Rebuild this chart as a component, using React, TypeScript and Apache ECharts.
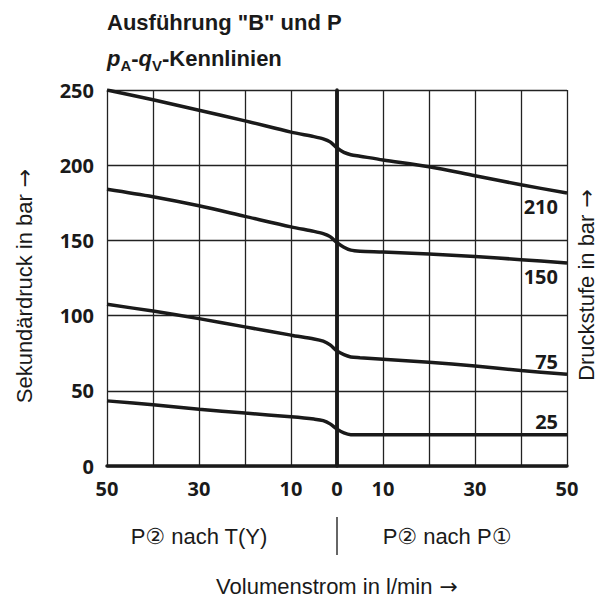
import React, { useEffect, useRef } from 'react';
import * as echarts from 'echarts';

// Flow rate in l/min: negative = P2 -> T(Y), positive = P2 -> P1
const flowRates = [-50, -40, -30, -20, -10, -5, -3, -1.5, 0, 1.5, 3, 5, 10, 20, 30, 40, 50];
const curve210 = [250, 243.5, 236.5, 229.5, 222, 219, 217.5, 215.5, 211.5, 208.5, 207, 206, 203.5, 199, 193, 187, 181.5];
const curve150 = [184, 179, 173, 166, 159, 156, 154.5, 152.5, 148.5, 145.5, 143.5, 142.8, 142.3, 141, 139.3, 137.2, 135];
const curve75 = [107.5, 103, 98, 92.5, 87, 84.5, 83, 80.5, 76.5, 74, 72.5, 72, 71, 69, 66.5, 63.5, 61];
const curve25 = [43.3, 40.7, 37.8, 35.2, 32.7, 31.2, 30.2, 28, 24.5, 22, 20.8, 20.7, 20.7, 20.7, 20.8, 20.8, 20.8];
const stageLabels = ['210', '150', '75', '25'];
const shownXTicks = [50, 30, 10, 0];

const titleLine1 = 'Ausführung "B" und P';
const yAxisName = 'Sekundärdruck in bar';
const rightAxisName = 'Druckstufe in bar';
const xAxisName = 'Volumenstrom in l/min';
const arrow = '→';
const leftRegion = 'P② nach T(Y)';
const rightRegion = 'P② nach P①';

// label placement (style only)
const labelOffsets: [number, number][] = [[-9, 13], [-9, 14], [-9, -13], [-9, -13]];

const INK = '#1a1a1a';
const NUM_FONT = '"Open Sans", sans-serif';
const TXT_FONT = '"Liberation Sans", Arial, "DejaVu Sans", sans-serif';
const NUM_SIZE = 20;

const nameRich = {
  t: { fontFamily: TXT_FONT, fontSize: 22, fill: INK },
  a: { fontFamily: '"DejaVu Sans", sans-serif', fontSize: 22, fill: INK, padding: [0, 0, 0, 7] },
};

export default function App() {
  const ref = useRef<HTMLDivElement>(null);
  useEffect(() => {
    if (!ref.current) return;
    const chart = echarts.init(ref.current, undefined, { renderer: 'svg' });
    const curves = [curve210, curve150, curve75, curve25];
    const series: any[] = curves.map((c, i) => ({
      type: 'line',
      name: stageLabels[i],
      data: flowRates.map((q, k) => [q, c[k]]),
      symbol: 'none',
      smooth: 0.3,
      lineStyle: { color: INK, width: 3.5 },
      z: 5,
      markPoint: {
        symbol: 'circle',
        symbolSize: 0,
        silent: true,
        data: [
          {
            coord: [flowRates[flowRates.length - 1], c[c.length - 1]],
            label: {
              show: true,
              formatter: stageLabels[i],
              position: 'inside',
              align: 'right',
              verticalAlign: 'middle',
              offset: labelOffsets[i],
              color: INK,
              fontFamily: NUM_FONT,
              fontWeight: 'bold',
              fontSize: NUM_SIZE,
            },
          },
        ],
      },
    }));
    series[0].markLine = {
      silent: true,
      symbol: ['none', 'none'],
      label: { show: false },
      lineStyle: { color: INK, width: 3.5, type: 'solid' },
      data: [{ xAxis: 0 }],
    };

    chart.setOption({
      animation: false,
      backgroundColor: '#ffffff',
      grid: { left: 107, right: 40, top: 90, bottom: 135, containLabel: false },
      xAxis: {
        type: 'value',
        min: -50,
        max: 50,
        interval: 10,
        axisLine: { show: true, onZero: false, lineStyle: { color: INK, width: 3.5 } },
        axisTick: { show: false },
        splitLine: { show: true, lineStyle: { color: '#222', width: 1.3 } },
        axisLabel: {
          margin: 12,
          color: INK,
          fontFamily: NUM_FONT,
          fontWeight: 'bold',
          fontSize: NUM_SIZE,
          formatter: (v: number) => (shownXTicks.includes(Math.abs(v)) ? String(Math.abs(v)) : ''),
        },
      },
      yAxis: {
        type: 'value',
        min: 0,
        max: 250,
        interval: 50,
        axisLine: { show: true, lineStyle: { color: INK, width: 3.5 } },
        axisTick: { show: false },
        splitLine: { show: true, lineStyle: { color: '#222', width: 1.3 } },
        axisLabel: {
          margin: 13,
          color: INK,
          fontFamily: NUM_FONT,
          fontWeight: 'bold',
          fontSize: NUM_SIZE,
          padding: [10, 0, 0, 0],
        },
      },
      graphic: [
        {
          type: 'text',
          x: 107,
          y: 22,
          style: {
            text: titleLine1,
            font: `bold 22px ${TXT_FONT}`,
            fill: INK,
            align: 'left',
            verticalAlign: 'middle',
          },
        },
        {
          type: 'text',
          x: 107,
          y: 58,
          style: {
            text: '{i|p}{s|A}{n|-}{i|q}{s|V}{n|-Kennlinien}',
            fill: INK,
            align: 'left',
            verticalAlign: 'middle',
            rich: {
              i: { fontFamily: TXT_FONT, fontWeight: 'bold', fontStyle: 'italic', fontSize: 22, lineHeight: 30, fill: INK },
              n: { fontFamily: TXT_FONT, fontWeight: 'bold', fontSize: 22, lineHeight: 30, fill: INK },
              s: { fontFamily: TXT_FONT, fontWeight: 'bold', fontSize: 15, lineHeight: 30, verticalAlign: 'bottom', fill: INK },
            },
          },
        },
        {
          type: 'text',
          x: 24,
          y: 286,
          rotation: Math.PI / 2,
          style: { text: `{t|${yAxisName}}{a|${arrow}}`, rich: nameRich, align: 'center', verticalAlign: 'middle' },
        },
        {
          type: 'text',
          x: 586,
          y: 285,
          rotation: Math.PI / 2,
          style: { text: `{t|${rightAxisName}}{a|${arrow}}`, rich: nameRich, align: 'center', verticalAlign: 'middle' },
        },
        {
          type: 'text',
          x: 199,
          y: 536,
          style: { text: leftRegion, font: `22px ${TXT_FONT}`, fill: INK, align: 'center', verticalAlign: 'middle' },
        },
        {
          type: 'line',
          shape: { x1: 337, y1: 517, x2: 337, y2: 555 },
          style: { stroke: '#333', lineWidth: 1.5 },
        },
        {
          type: 'text',
          x: 447,
          y: 536,
          style: { text: rightRegion, font: `22px ${TXT_FONT}`, fill: INK, align: 'center', verticalAlign: 'middle' },
        },
        {
          type: 'text',
          x: 337,
          y: 586,
          style: { text: `{t|${xAxisName}}{a|${arrow}}`, rich: nameRich, align: 'center', verticalAlign: 'middle' },
        },
      ],
      series,
    });
    return () => chart.dispose();
  }, []);
  return (
    <div
      ref={ref}
      style={{ position: 'fixed', left: 0, top: 0, width: 607, height: 601, background: '#fff' }}
    />
  );
}
